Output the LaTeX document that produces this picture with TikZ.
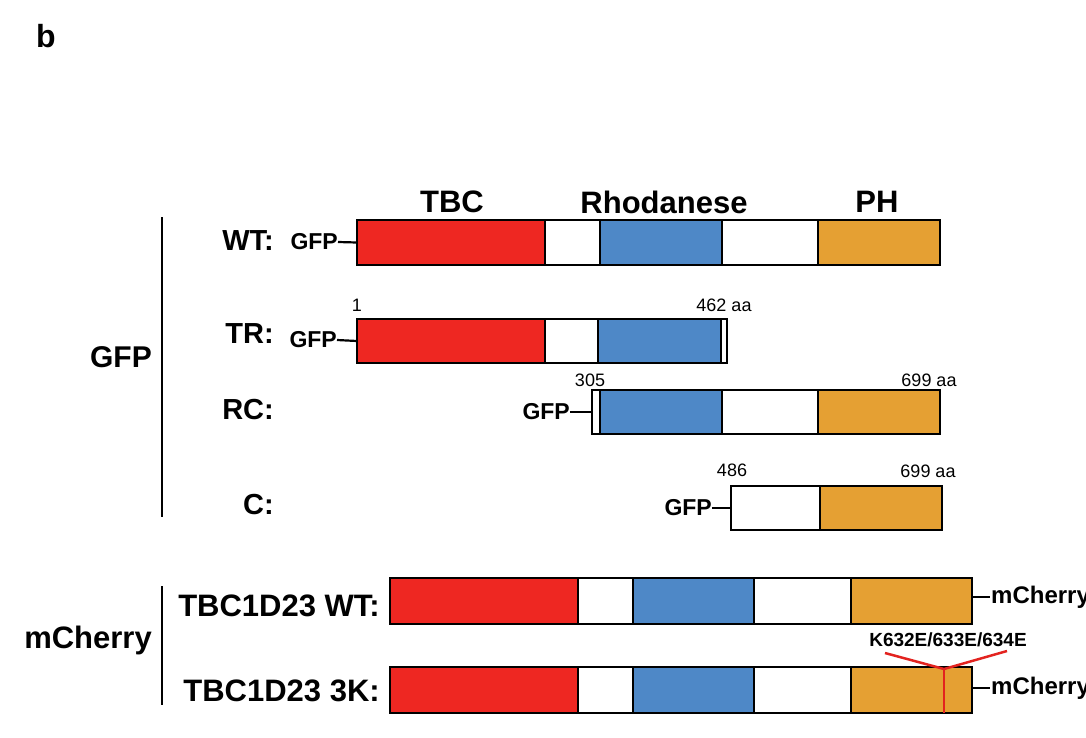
\documentclass[tikz,border=0pt]{standalone}
\usepackage{fontspec}
\setmainfont{Liberation Sans}
\definecolor{tred}{HTML}{EE2722}
\definecolor{tblue}{HTML}{4E88C7}
\definecolor{torange}{HTML}{E5A033}
\definecolor{mutred}{HTML}{E3231F}
\tikzset{
  seg/.style={draw=black, line width=2pt},
  box/.style={draw=black, line width=2.5pt, inner sep=0pt, outer sep=0pt, anchor=north west, minimum height=45pt},
  head/.style={font=\bfseries\fontsize{31}{36}\selectfont, inner sep=0pt},
  rowlab/.style={font=\bfseries\fontsize{29}{33}\selectfont, inner sep=0pt, anchor=east},
  grplab/.style={font=\bfseries\fontsize{30}{34}\selectfont, inner sep=0pt, anchor=east},
  mlab/.style={font=\bfseries\fontsize{31}{35}\selectfont, inner sep=0pt, anchor=east},
  tag/.style={font=\bfseries\fontsize{23}{26}\selectfont, inner sep=0pt, anchor=east},
  tail/.style={font=\bfseries\fontsize{24}{27}\selectfont, inner sep=0pt, anchor=west},
  num/.style={font=\fontsize{18}{21}\selectfont, inner sep=0pt},
  link/.style={line width=2.2pt},
  bracket/.style={line width=2.5pt},
  mut/.style={draw=mutred, line width=2.5pt},
}
\begin{document}
\begin{tikzpicture}[x=1pt,y=-1pt]
\clip (0,0) rectangle (1086,737);
\fill[white] (0,0) rectangle (1086,737);

\node[font=\bfseries\fontsize{32}{36}\selectfont, inner sep=0pt] (b) at (46,36) {b};

% domain headers
\node[head] (hTBC) at (452,202) {TBC};
\node[head] (hRho) at (664,202) {Rhodanese};
\node[head] (hPH) at (877,202) {PH};

% ---------- WT ----------
\filldraw[seg, fill=tred] (357,220) rectangle (545,265);
\filldraw[seg, fill=white] (545,220) rectangle (600,265);
\filldraw[seg, fill=tblue] (600,220) rectangle (722,265);
\filldraw[seg, fill=white] (722,220) rectangle (818,265);
\filldraw[seg, fill=torange] (818,220) rectangle (940,265);
\node[box, minimum width=583pt, minimum height=45pt] (wt) at (357,220) {};
\node[rowlab] (lwt) at (274,241) {WT:};
\node[tag] (gwt) at (338,242) {GFP};
\draw[link] (gwt.east) -- (wt.west);

% ---------- TR ----------
\filldraw[seg, fill=tred] (357,319) rectangle (545,363);
\filldraw[seg, fill=white] (545,319) rectangle (598,363);
\filldraw[seg, fill=tblue] (598,319) rectangle (721,363);
\filldraw[seg, fill=white] (721,319) rectangle (727,363);
\node[box, minimum width=370pt, minimum height=44pt] (tr) at (357,319) {};
\node[rowlab] (ltr) at (274,334) {TR:};
\node[tag] (gtr) at (337,340) {GFP};
\draw[link] (gtr.east) -- (tr.west);
\node[num] (n1) at (357,305) {1};
\node[num] (n462) at (724,305) {462 aa};

% ---------- RC ----------
\filldraw[seg, fill=white] (592,390) rectangle (600,434);
\filldraw[seg, fill=tblue] (600,390) rectangle (722,434);
\filldraw[seg, fill=white] (722,390) rectangle (818,434);
\filldraw[seg, fill=torange] (818,390) rectangle (940,434);
\node[box, minimum width=348pt, minimum height=44pt] (rc) at (592,390) {};
\node[rowlab] (lrc) at (274,410) {RC:};
\node[tag] (grc) at (570,412) {GFP};
\draw[link] (grc.east) -- (rc.west);
\node[num] (n305) at (590,380) {305};
\node[num] (n699a) at (929,380) {699 aa};

% ---------- C ----------
\filldraw[seg, fill=white] (731,486) rectangle (820,530);
\filldraw[seg, fill=torange] (820,486) rectangle (942,530);
\node[box, minimum width=211pt, minimum height=44pt] (cc) at (731,486) {};
\node[rowlab] (lc) at (274,505) {C:};
\node[tag] (gc) at (712,508) {GFP};
\draw[link] (gc.east) -- (cc.west);
\node[num] (n486) at (732,470) {486};
\node[num] (n699b) at (928,471) {699 aa};

% GFP group
\coordinate (g1) at (162,217);
\coordinate (g2) at (162,517);
\draw[bracket] (g1) -- (g2);
\node[grplab] (gfp) at (152,357) {GFP};

% ---------- mCherry WT ----------
\filldraw[seg, fill=tred] (390,578) rectangle (578,624);
\filldraw[seg, fill=white] (578,578) rectangle (633,624);
\filldraw[seg, fill=tblue] (633,578) rectangle (754,624);
\filldraw[seg, fill=white] (754,578) rectangle (851,624);
\filldraw[seg, fill=torange] (851,578) rectangle (972,624);
\node[box, minimum width=582pt, minimum height=46pt] (mwt) at (390,578) {};
\node[mlab] (lmwt) at (380,606) {TBC1D23 WT:};
\coordinate (mwtd) at (990,597);
\draw[link] (mwt.east |- mwtd) -- (mwtd);
\node[tail] (cmwt) at (991,597) {mCherry};

% ---------- mCherry 3K ----------
\filldraw[seg, fill=tred] (390,667) rectangle (578,713);
\filldraw[seg, fill=white] (578,667) rectangle (633,713);
\filldraw[seg, fill=tblue] (633,667) rectangle (754,713);
\filldraw[seg, fill=white] (754,667) rectangle (851,713);
\filldraw[seg, fill=torange] (851,667) rectangle (972,713);
\node[box, minimum width=582pt, minimum height=46pt] (m3k) at (390,667) {};
\node[mlab] (lm3k) at (380,691) {TBC1D23 3K:};
\coordinate (m3kd) at (990,688);
\draw[link] (m3k.east |- m3kd) -- (m3kd);
\node[tail] (cm3k) at (991,688) {mCherry};

% mutation marker
\node[font=\bfseries\fontsize{19}{22}\selectfont, inner sep=0pt] (mut) at (948,640) {K632E/633E/634E};
\coordinate (mv) at (944,669);
\coordinate (ml) at (885,653);
\coordinate (mr) at (1007,651);
\coordinate (mb) at (944,713);
\draw[mut] (ml) -- (mv) -- (mr);
\draw[mut] (mv) -- (mb);

% mCherry group
\coordinate (c1) at (162,586);
\coordinate (c2) at (162,705);
\draw[bracket] (c1) -- (c2);
\node[grplab, font=\bfseries\fontsize{31}{35}\selectfont] (mch) at (152,640) {mCherry};
\end{tikzpicture}
\end{document}
